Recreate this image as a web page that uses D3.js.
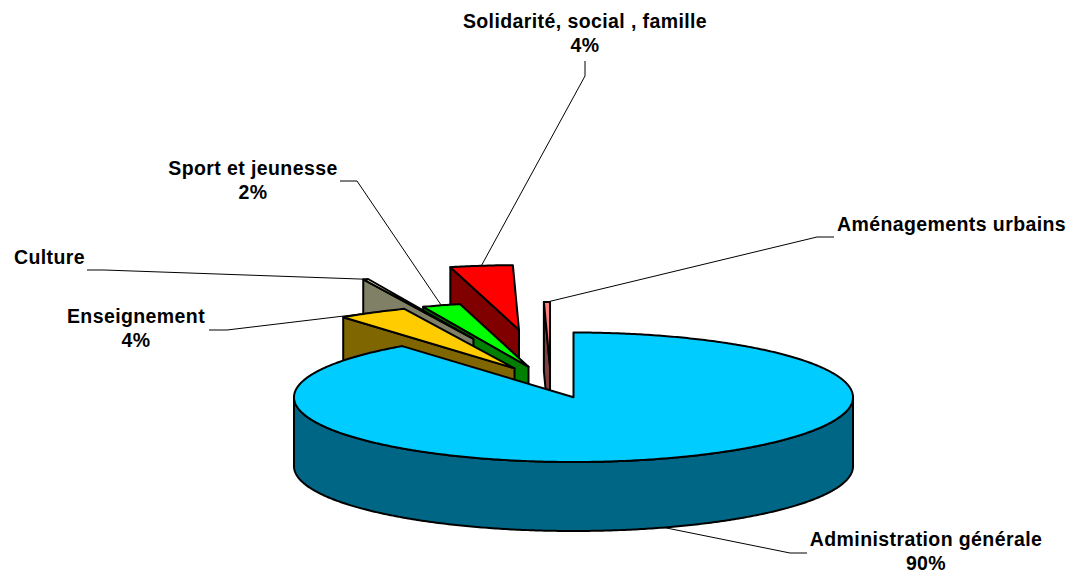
<!DOCTYPE html>
<html><head><meta charset="utf-8">
<script src="https://cdnjs.cloudflare.com/ajax/libs/d3/7.8.5/d3.min.js"></script>
<style>html,body{margin:0;padding:0;background:#fff}svg{display:block}text{font-family:"Liberation Sans",Arial,sans-serif;font-weight:bold;font-size:19.5px;letter-spacing:.4px;fill:#000}</style>
</head><body><div id="chart"></div>
<script>
// Data, clockwise from 12 o'clock
const categories = ["Administration générale","Enseignement","Culture","Sport et jeunesse","Solidarité, social , famille","Aménagements urbains"];
const shares = [89.5,4.05,0.3,2.2,3.6,0.35];
const shownPercent = ["90%","4%",null,"2%","4%",null];
const topColors = ["#00CCFF","#FFCC00","#FFFFCC","#00FF00","#FF0000","#FF8080"];
const wallColors = ["#006685","#806600","#808066","#008000","#800000","#804040"];

// Layout: explosion of each slice, in pie-radius units (x, y)
const explodeX = [0,-0.211,-0.358,-0.161,-0.195,-0.084];
const explodeY = [0,0.446,0.900,0.470,1.040,0.470];
const labelPos = [[926,541,"middle"],[136,318,"middle"],[14,259,"start"],[253,170,"middle"],[585,23,"middle"],[837,226,"start"]];
const elbows = [[[790,553],[807,553]],[[227,330],[209,330]],[[104,270],[87,270]],[[357,181],[340,181]],[[585,76],[585,61]],[[817,237],[834,237]]];
const W=1070,H=573,depth=69;

const x=d3.scaleLinear().domain([-1,1]).range([294,853]);
const y=d3.scaleLinear().domain([-1,1]).range([462,332.5]);
const svg=d3.select("#chart").append("svg").attr("width",W).attr("height",H);
const arcs=d3.pie().sort(null).startAngle(0).endAngle(2*Math.PI)(shares);
const line=d3.line();
const pt=(i,a,dz=0)=>[x(explodeX[i]+Math.sin(a)),y(explodeY[i]+Math.cos(a))+dz];
const ctr=(i,dz=0)=>[x(explodeX[i]),y(explodeY[i])+dz];
const rim=(i,a0,a1,dz=0)=>{const n=Math.max(2,Math.ceil((a1-a0)/0.01));return d3.range(n+1).map(k=>pt(i,a0+(a1-a0)*k/n,dz));};
const style=s=>s.attr("stroke","#000").attr("stroke-width",2).attr("stroke-linejoin","round");

// paint back to front: last slices first, main slice on top
d3.range(arcs.length-1,-1,-1).forEach(i=>{
  const a=arcs[i], g=svg.append("g").attr("class","slice");
  if(i===0){
    const front=rim(i,Math.PI/2,3*Math.PI/2);
    g.append("path").attr("d",line(front.concat(front.map(p=>[p[0],p[1]+depth]).reverse()))+"Z").attr("fill",wallColors[i]).call(style);
  } else {
    // wall on the slice's leading (near) edge
    g.append("path").attr("d",line([ctr(i),pt(i,a.startAngle),pt(i,a.startAngle,depth),ctr(i,depth)])+"Z").attr("fill",wallColors[i]).call(style);
  }
  g.append("path").attr("d",line([ctr(i),...rim(i,a.startAngle,a.endAngle)])+"Z").attr("fill",topColors[i]).call(style);
});

// leader lines
arcs.forEach((a,i)=>{
  const m=(a.startAngle+a.endAngle)/2, s=pt(i,m,i===0?depth:0);
  svg.append("path").attr("d",line([s,...elbows[i]])).attr("fill","none").attr("stroke","#000").attr("stroke-width",1);
});

// labels
categories.forEach((c,i)=>{
  const [lx,ly,anchor]=labelPos[i];
  const t=svg.append("text").attr("text-anchor",anchor).attr("x",lx).attr("y",ly).attr("dominant-baseline","middle");
  t.append("tspan").attr("x",lx).text(c);
  if(shownPercent[i]) t.append("tspan").attr("x",lx).attr("dy",24).text(shownPercent[i]);
});
</script></body></html>
